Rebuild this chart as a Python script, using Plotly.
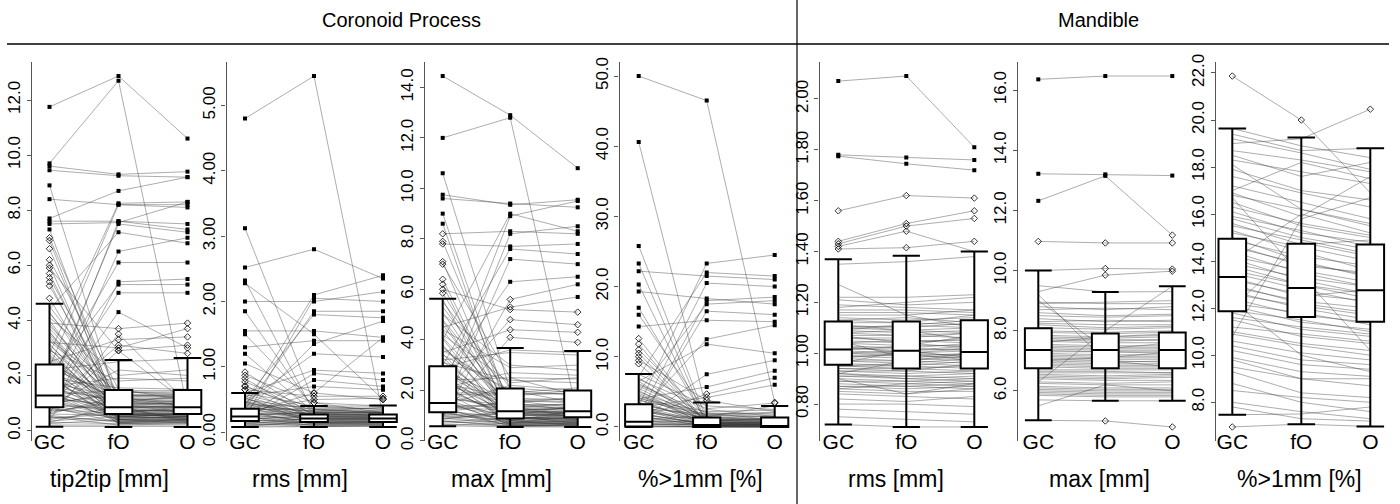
import plotly.graph_objects as go

W, H = 1400, 504
CATS = ["GC", "fO", "O"]

# ---------------- data: subjects as (GC, fO, O) ----------------
# Coronoid Process - tip2tip [mm]
p1_subjects = [
    (11.75, 12.87, 10.6), (9.7, 12.7, 0.8), (9.6, 9.3, 9.4), (9.45, 9.25, 9.2), (8.9, 0.9, 0.7),
    (8.4, 8.2, 8.2), (7.7, 8.7, 9.2), (7.6, 7.6, 7.3), (7.5, 7.55, 8.3), (7.3, 0.6, 0.5),
    (7.0, 1.2, 0.9), (6.9, 0.5, 0.6), (6.6, 0.8, 0.4), (6.2, 1.5, 1.1), (6.0, 0.4, 0.5),
    (5.9, 2.9, 1.0), (5.7, 0.7, 0.6), (5.55, 1.0, 1.3), (5.4, 0.3, 0.4), (5.25, 0.9, 0.3),
    (4.8, 0.6, 0.9),
    (2.3, 8.2, 8.1), (1.5, 7.5, 7.2), (0.9, 6.5, 7.0), (1.8, 6.1, 6.1), (0.6, 5.4, 5.5),
    (2.0, 5.3, 5.3), (1.2, 5.0, 5.0), (0.8, 4.3, 3.0), (3.9, 3.7, 3.9), (0.4, 3.5, 1.0),
    (2.5, 3.3, 3.4), (1.0, 3.1, 2.8), (3.2, 3.0, 3.7), (0.7, 2.9, 3.1), (4.4, 7.2, 6.8),
    (2.8, 8.25, 8.3), (1.3, 7.6, 7.5),
    (4.5, 1.3, 1.2), (4.3, 0.9, 1.0), (4.1, 2.0, 2.2), (3.9, 0.7, 0.8), (3.7, 1.1, 0.9),
    (3.5, 0.5, 0.6), (3.3, 1.4, 1.3), (3.1, 0.8, 0.7), (2.9, 1.8, 1.9), (2.7, 0.6, 0.5),
    (2.5, 1.0, 1.1), (2.3, 0.4, 0.4), (2.1, 1.2, 1.0), (1.9, 0.9, 0.8), (1.7, 0.5, 0.6),
    (1.5, 1.1, 1.2), (1.4, 0.7, 0.7), (1.3, 1.45, 1.45), (1.2, 0.85, 0.8), (1.1, 0.6, 0.65),
    (1.0, 1.3, 1.3), (0.9, 0.8, 0.9), (0.8, 0.45, 0.5), (0.7, 1.0, 0.95), (0.6, 0.55, 0.6),
    (0.5, 0.35, 0.4), (0.4, 0.75, 0.7), (0.3, 0.25, 0.3), (0.2, 0.2, 0.2), (0.15, 0.15, 0.15),
    (2.2, 2.5, 2.6), (1.6, 1.9, 1.8), (0.9, 2.2, 2.0), (3.0, 0.3, 0.35), (2.0, 0.25, 0.3),
    (0.35, 0.5, 0.45), (0.55, 0.3, 0.35), (0.75, 0.65, 0.6), (0.95, 0.4, 0.45), (1.15, 0.95, 1.0),
    (1.35, 0.55, 0.5), (1.55, 0.8, 0.85), (1.75, 1.2, 1.15), (1.95, 0.35, 0.4), (2.15, 0.7, 0.75),
    (2.45, 1.05, 1.0), (2.65, 0.45, 0.5), (2.95, 0.9, 0.85), (3.4, 0.6, 0.65), (3.8, 1.25, 1.3),
    (0.25, 0.4, 0.35), (0.65, 1.1, 1.05), (1.05, 0.5, 0.55),
    (0.45, 0.6, 0.55), (0.85, 0.3, 0.3), (1.25, 0.4, 0.45), (1.65, 1.0, 0.95), (2.05, 0.6, 0.55),
    (2.4, 0.85, 0.9), (2.85, 0.5, 0.45), (3.25, 1.15, 1.1), (3.6, 0.35, 0.4), (4.0, 0.55, 0.6),
    (4.25, 1.4, 1.35), (0.3, 0.9, 0.85), (0.6, 1.25, 1.2), (1.0, 0.7, 0.75), (1.4, 0.3, 0.35),
    (1.85, 0.65, 0.7), (2.25, 1.3, 1.25), (2.75, 0.75, 0.7), (3.15, 0.45, 0.5), (3.55, 0.95, 0.9),
    (0.5, 0.2, 0.25), (0.95, 1.4, 1.4), (1.45, 0.6, 0.6), (1.9, 1.55, 1.5), (2.6, 0.25, 0.25),
]
p1_lo = [0.14, 0.13, 0.13]
p1_q1 = [0.85, 0.60, 0.60]
p1_med = [1.27, 0.85, 0.85]
p1_q3 = [2.40, 1.47, 1.47]
p1_hi = [4.60, 2.56, 2.63]

# Coronoid Process - rms [mm]
p2_subjects = [
    (4.80, 5.45, 0.25), (3.12, 0.45, 0.30), (2.52, 2.80, 2.35), (2.32, 0.30, 0.25), (2.28, 1.50, 0.50),
    (2.00, 2.00, 2.15), (1.85, 0.35, 0.30), (1.55, 1.55, 1.45), (1.50, 0.40, 0.35), (1.30, 1.40, 1.40),
    (1.20, 0.30, 0.28), (1.05, 0.60, 0.50), (0.92, 0.25, 0.22), (0.87, 0.45, 0.40), (0.82, 0.20, 0.20),
    (0.77, 0.35, 0.30), (0.71, 0.28, 0.25),
    (0.40, 2.10, 2.40), (0.35, 1.85, 1.85), (0.50, 1.80, 1.75), (0.30, 1.35, 1.70), (0.45, 1.20, 1.15),
    (0.60, 0.95, 0.90), (0.25, 0.90, 0.80), (0.20, 0.80, 0.70), (0.55, 0.70, 0.65), (0.28, 0.60, 1.45),
    (0.65, 0.55, 0.55), (0.32, 0.50, 0.52), (0.22, 2.05, 2.00),
    (0.60, 0.40, 0.40), (0.55, 0.25, 0.28), (0.50, 0.35, 0.33), (0.47, 0.18, 0.20), (0.45, 0.30, 0.30),
    (0.42, 0.38, 0.35), (0.40, 0.22, 0.24), (0.38, 0.27, 0.27), (0.36, 0.33, 0.32), (0.33, 0.24, 0.25),
    (0.31, 0.15, 0.17), (0.30, 0.22, 0.22), (0.28, 0.29, 0.30), (0.26, 0.20, 0.20), (0.24, 0.13, 0.14),
    (0.22, 0.18, 0.18), (0.20, 0.26, 0.25), (0.18, 0.16, 0.16), (0.16, 0.11, 0.12), (0.15, 0.14, 0.14),
    (0.13, 0.21, 0.20), (0.12, 0.12, 0.12), (0.10, 0.09, 0.10), (0.09, 0.17, 0.16), (0.08, 0.08, 0.09),
    (0.70, 0.32, 0.38), (0.65, 0.20, 0.22),
    (0.58, 0.30, 0.31), (0.52, 0.21, 0.22), (0.48, 0.27, 0.26), (0.44, 0.15, 0.16), (0.41, 0.32, 0.30),
    (0.37, 0.19, 0.19), (0.34, 0.28, 0.28), (0.32, 0.12, 0.13), (0.29, 0.25, 0.24), (0.27, 0.17, 0.18),
    (0.25, 0.31, 0.30), (0.23, 0.10, 0.11), (0.21, 0.23, 0.23), (0.19, 0.14, 0.15), (0.17, 0.20, 0.21),
    (0.14, 0.09, 0.10), (0.11, 0.15, 0.15), (0.35, 0.36, 0.37), (0.53, 0.13, 0.14), (0.46, 0.24, 0.23),
]
p2_lo = [0.08, 0.08, 0.08]
p2_q1 = [0.17, 0.155, 0.155]
p2_med = [0.24, 0.21, 0.21]
p2_q3 = [0.36, 0.27, 0.27]
p2_hi = [0.60, 0.40, 0.41]

# Coronoid Process - max [mm]
p3_subjects = [
    (14.45, 12.9, 10.8), (12.0, 12.8, 1.0), (10.6, 2.0, 1.5), (9.75, 9.35, 9.55), (9.6, 9.4, 9.25),
    (9.0, 1.2, 1.1), (8.6, 0.9, 0.8), (8.2, 8.3, 8.2), (7.9, 1.4, 0.9), (7.8, 7.7, 7.8),
    (7.1, 0.8, 1.2), (7.0, 2.5, 1.8), (6.4, 1.0, 0.7), (6.2, 0.7, 1.0), (6.0, 5.2, 5.1),
    (5.85, 1.6, 1.3), (5.6, 0.8, 0.6),
    (2.0, 8.9, 9.5), (1.5, 8.2, 8.5), (3.0, 7.6, 7.4), (1.2, 7.2, 7.0), (2.5, 6.3, 6.5),
    (0.9, 5.6, 6.2), (4.5, 5.3, 5.7), (1.8, 4.8, 4.6), (3.5, 4.4, 4.3), (1.0, 4.1, 3.9),
    (4.0, 9.0, 8.3),
    (5.0, 3.0, 2.8), (4.2, 2.3, 2.5), (3.6, 1.9, 2.1), (3.2, 3.5, 3.4), (2.8, 1.6, 1.7),
    (2.4, 1.3, 1.5), (2.1, 2.7, 2.6), (1.9, 1.1, 1.2), (1.7, 1.4, 1.3), (1.5, 1.0, 1.0),
    (1.35, 1.2, 1.1), (1.2, 0.9, 0.95), (1.1, 0.75, 0.8), (0.95, 0.7, 0.75), (0.8, 0.6, 0.65),
    (0.6, 0.55, 0.55), (4.8, 1.5, 1.2), (2.2, 0.8, 0.9), (3.0, 1.0, 1.4), (1.4, 2.2, 2.0),
    (5.3, 1.8, 2.0), (4.6, 1.1, 0.95), (3.8, 0.85, 1.05), (3.4, 2.0, 1.8), (2.6, 0.95, 1.1),
    (2.3, 1.7, 1.6), (1.6, 0.65, 0.7), (1.3, 1.5, 1.7), (1.0, 0.95, 0.85), (0.85, 1.2, 1.3),
    (0.7, 0.8, 0.75), (2.9, 3.6, 3.5),
    (0.65, 0.6, 0.6), (0.75, 0.9, 0.85), (0.9, 0.65, 0.7), (1.05, 1.05, 1.0), (1.25, 0.7, 0.8),
    (1.45, 1.3, 1.25), (1.65, 0.9, 0.9), (1.85, 1.8, 1.9), (2.05, 1.0, 1.1), (2.25, 1.45, 1.4),
    (2.5, 0.75, 0.85), (2.7, 1.2, 1.3), (3.1, 2.4, 2.3), (3.3, 0.9, 1.0), (3.7, 1.6, 1.5),
    (4.1, 1.2, 1.3), (4.4, 2.9, 3.0), (5.5, 2.1, 1.9),
    (0.62, 0.7, 0.7), (0.78, 0.58, 0.6), (0.98, 0.85, 0.9), (1.15, 0.62, 0.65), (1.38, 1.0, 1.05),
    (1.55, 0.72, 0.75), (1.75, 1.25, 1.2), (1.95, 0.6, 0.62), (2.15, 0.9, 0.95), (2.35, 1.1, 1.05),
    (2.55, 0.65, 0.7), (2.75, 1.4, 1.45), (2.95, 0.8, 0.78), (3.15, 1.2, 1.15), (3.45, 0.7, 0.72),
    (3.75, 1.05, 1.1), (4.05, 0.6, 0.65), (4.35, 1.35, 1.3), (4.75, 0.9, 0.85), (5.1, 1.15, 1.1),
    (1.1, 1.6, 1.55), (0.88, 1.1, 1.15), (1.9, 1.9, 1.85), (2.4, 2.5, 2.45), (1.3, 0.58, 0.6),
]
p3_lo = [0.58, 0.55, 0.55]
p3_q1 = [1.13, 0.89, 0.93]
p3_med = [1.50, 1.17, 1.17]
p3_q3 = [2.95, 2.07, 1.99]
p3_hi = [5.63, 3.68, 3.56]

# Coronoid Process - %>1mm [%]
p4_subjects = [
    (50.0, 46.5, 3.5), (40.6, 2.5, 1.5), (25.8, 1.0, 0.8), (23.3, 0.5, 0.4), (22.2, 21.5, 21.0),
    (20.3, 0.3, 0.2), (19.3, 18.3, 17.5), (17.0, 0.8, 0.5), (16.0, 2.0, 1.0), (14.3, 15.2, 15.0),
    (12.6, 0.4, 0.3), (11.8, 0.2, 0.5), (11.0, 1.4, 0.9), (10.5, 0.6, 0.2), (10.0, 0.1, 0.1),
    (9.5, 3.8, 2.2), (9.0, 0.9, 0.6),
    (3.0, 23.3, 24.5), (1.5, 20.5, 20.0), (5.0, 17.5, 18.0), (0.5, 16.5, 16.0), (2.0, 12.5, 14.5),
    (6.5, 11.8, 10.5), (0.8, 7.5, 9.5), (4.0, 5.7, 8.0), (1.2, 4.7, 7.0), (2.8, 4.2, 6.0),
    (7.2, 22.0, 21.5), (0.3, 18.0, 18.5),
    (7.5, 3.0, 2.5), (6.0, 2.0, 1.8), (5.0, 1.5, 3.0), (4.2, 1.0, 1.2), (3.5, 0.7, 0.5),
    (2.6, 0.5, 0.8), (2.0, 0.3, 0.3), (1.4, 0.2, 0.1), (0.9, 0.1, 0.1), (0.5, 0.0, 0.0),
    (0.2, 0.0, 0.0), (0.0, 0.0, 0.0), (3.2, 1.3, 1.0), (1.0, 0.6, 0.4), (0.7, 0.8, 1.3),
    (6.8, 2.6, 3.4), (5.5, 0.9, 0.7), (4.6, 0.4, 0.6), (3.8, 1.8, 1.5), (2.3, 1.1, 0.9),
    (1.8, 0.5, 0.3), (1.1, 1.5, 2.0), (0.4, 0.3, 0.2), (0.1, 0.1, 0.0), (6.2, 1.2, 1.6),
    (2.9, 0.2, 0.1),
    (7.0, 1.0, 0.8), (6.5, 0.5, 0.4), (5.8, 1.6, 1.4), (5.2, 0.2, 0.3), (4.8, 0.8, 0.6),
    (4.4, 1.4, 1.1), (3.9, 0.3, 0.2), (3.4, 1.1, 0.9), (3.0, 0.6, 0.7), (2.5, 0.1, 0.2),
    (2.2, 0.9, 1.1), (1.9, 0.4, 0.3), (1.6, 0.1, 0.0), (1.3, 0.7, 0.5), (0.95, 0.3, 0.4),
    (0.6, 0.2, 0.1), (0.35, 0.5, 0.6), (0.15, 0.0, 0.1), (4.0, 2.2, 2.4), (2.7, 1.8, 2.1),
]
p4_lo = [0.0, 0.0, 0.0]
p4_q1 = [0.05, 0.0, 0.0]
p4_med = [0.75, 0.28, 0.15]
p4_q3 = [3.24, 1.36, 1.36]
p4_hi = [7.56, 3.47, 3.00]

# Mandible - rms [mm]
p5_subjects = [
    (2.07, 2.09, 1.81), (1.78, 1.77, 1.76), (1.775, 1.745, 1.72), (1.56, 1.62, 1.61), (1.44, 1.51, 1.56),
    (1.43, 1.50, 1.53), (1.42, 1.48, 1.40), (1.41, 1.415, 1.44),
    (1.35, 1.36, 1.38), (1.27, 1.15, 1.10), (1.22, 1.22, 1.23), (1.18, 1.20, 1.22), (1.17, 1.17, 1.16),
    (1.15, 1.15, 1.17), (1.13, 1.14, 1.12), (1.10, 1.11, 1.13), (1.08, 1.09, 1.10), (1.06, 1.06, 1.08),
    (1.04, 1.05, 1.04), (1.02, 1.01, 1.02), (1.00, 1.00, 0.99), (0.99, 0.98, 0.97), (0.97, 0.96, 0.95),
    (0.95, 0.95, 0.94), (0.93, 0.92, 0.93), (0.91, 0.90, 0.91), (0.89, 0.88, 0.89), (0.87, 0.86, 0.87),
    (0.85, 0.84, 0.86), (0.84, 0.83, 0.82), (0.80, 0.80, 0.79), (0.78, 0.77, 0.76), (0.75, 0.74, 0.73),
    (0.72, 0.71, 0.71), (0.90, 0.84, 0.88), (1.05, 0.98, 1.00), (0.96, 1.01, 1.03), (1.11, 1.09, 1.05),
    (0.92, 0.97, 1.00), (1.01, 1.03, 1.07), (0.94, 0.93, 0.96), (1.07, 1.04, 1.02),
    (1.19, 1.18, 1.17), (1.16, 1.16, 1.15), (1.14, 1.13, 1.14), (1.12, 1.12, 1.11), (1.11, 1.10, 1.12),
    (1.10, 1.09, 1.08), (1.09, 1.08, 1.09), (1.08, 1.07, 1.06), (1.07, 1.07, 1.08), (1.06, 1.05, 1.05),
    (1.05, 1.04, 1.06), (1.04, 1.03, 1.03), (1.03, 1.02, 1.04), (1.02, 1.02, 1.01), (1.01, 1.00, 1.01),
    (1.00, 0.99, 1.00), (0.99, 0.99, 0.98), (0.98, 0.97, 0.99), (0.97, 0.97, 0.96), (0.96, 0.95, 0.97),
    (0.95, 0.94, 0.95), (0.94, 0.94, 0.93), (0.93, 0.93, 0.92), (0.92, 0.91, 0.92), (0.91, 0.91, 0.90),
    (0.90, 0.89, 0.90), (0.89, 0.89, 0.88), (0.88, 0.87, 0.88), (0.87, 0.87, 0.86), (0.86, 0.85, 0.85),
    (1.00, 1.01, 0.98), (0.98, 1.00, 1.02), (1.03, 1.00, 0.97), (0.95, 0.96, 0.98), (1.09, 1.11, 1.10),
    (0.92, 0.90, 0.89), (1.13, 1.12, 1.15), (1.21, 1.19, 1.20), (0.82, 0.81, 0.83), (0.86, 0.88, 0.87),
]
p5_lo = [0.72, 0.71, 0.71]
p5_q1 = [0.955, 0.94, 0.94]
p5_med = [1.015, 1.01, 1.005]
p5_q3 = [1.125, 1.125, 1.13]
p5_hi = [1.37, 1.383, 1.40]

# Mandible - max [mm]
p6_subjects = [
    (16.36, 16.47, 16.47), (13.22, 13.2, 13.16), (12.32, 13.15, 11.18), (10.97, 10.92, 10.92),
    (10.0, 10.07, 10.05), (9.3, 9.85, 9.98), (5.02, 5.0, 4.8), (9.2, 7.0, 6.8), (9.0, 7.4, 7.6),
    (6.3, 8.0, 9.48), (8.9, 8.95, 9.0), (8.8, 8.7, 8.8), (8.6, 8.5, 8.55), (8.4, 8.3, 8.35),
    (8.2, 8.1, 8.15), (8.0, 7.95, 8.0), (7.85, 7.8, 7.85), (7.7, 7.65, 7.7), (7.55, 7.5, 7.5),
    (7.4, 7.35, 7.35), (7.25, 7.2, 7.2), (7.1, 7.05, 7.05), (6.95, 6.9, 6.9), (6.8, 6.75, 6.75),
    (6.6, 6.6, 6.6), (6.45, 6.4, 6.45), (6.3, 6.25, 6.3), (6.15, 6.1, 6.1), (6.0, 5.95, 5.95),
    (5.85, 5.8, 5.8), (5.7, 5.67, 5.67), (9.5, 9.29, 9.3), (5.5, 6.2, 6.0), (7.6, 7.8, 7.9),
    (7.0, 7.1, 7.3),
    (8.95, 8.9, 8.9), (8.7, 8.75, 8.7), (8.5, 8.45, 8.5), (8.3, 8.35, 8.3), (8.1, 8.05, 8.1),
    (7.95, 7.9, 7.95), (7.8, 7.75, 7.8), (7.65, 7.6, 7.6), (7.5, 7.45, 7.45), (7.45, 7.4, 7.4),
    (7.3, 7.3, 7.25), (7.2, 7.15, 7.15), (7.15, 7.1, 7.1), (7.0, 6.95, 7.0), (6.9, 6.85, 6.85),
    (6.85, 6.8, 6.8), (6.7, 6.7, 6.7), (6.55, 6.5, 6.55), (6.5, 6.45, 6.5), (6.4, 6.35, 6.35),
    (6.25, 6.2, 6.2), (6.1, 6.05, 6.05), (5.95, 5.9, 5.9), (5.9, 5.85, 5.85), (6.05, 6.0, 6.0),
    (7.75, 7.7, 7.7), (7.35, 7.3, 7.3), (6.65, 6.65, 6.6), (8.25, 8.2, 8.2), (7.05, 7.0, 6.95),
]
p6_lo = [5.02, 5.67, 5.67]
p6_q1 = [6.75, 6.75, 6.75]
p6_med = [7.36, 7.36, 7.36]
p6_q3 = [8.08, 7.91, 7.94]
p6_hi = [10.0, 9.29, 9.48]

# Mandible - %>1mm [%]
p7_subjects = [
    (21.87, 20.0, 16.9), (19.0, 19.2, 20.46), (6.95, 7.07, 6.97), (19.64, 18.9, 18.4), (19.4, 18.7, 18.8),
    (18.7, 18.3, 17.8), (18.5, 17.6, 18.2), (17.9, 17.0, 16.6), (17.2, 16.5, 15.8), (16.9, 15.9, 17.6),
    (16.5, 15.5, 15.0), (16.1, 15.2, 14.8), (15.8, 15.0, 14.5), (15.6, 14.7, 14.9), (15.3, 14.4, 13.6),
    (15.0, 14.0, 13.3), (14.7, 13.8, 13.5), (14.4, 13.5, 12.9), (14.1, 13.2, 12.6), (13.8, 13.0, 12.4),
    (13.5, 12.8, 12.2), (13.3, 12.5, 12.8), (13.0, 12.2, 11.8), (12.7, 12.0, 11.5), (12.4, 11.7, 11.4),
    (12.1, 11.4, 11.1), (11.8, 11.1, 10.8), (11.5, 10.8, 10.5), (11.0, 10.5, 10.2), (10.6, 10.1, 9.8),
    (10.2, 9.6, 9.4), (9.8, 9.0, 9.0), (9.3, 8.4, 8.2), (8.8, 8.0, 7.6), (7.47, 7.5, 7.8),
    (16.7, 13.4, 10.2), (10.8, 15.8, 16.7), (12.0, 14.8, 14.2), (18.1, 16.2, 15.5),
    (19.2, 18.6, 17.9), (18.3, 17.8, 17.3), (17.6, 16.9, 16.3), (16.8, 16.2, 15.6), (16.3, 15.6, 15.1),
    (15.9, 15.3, 14.6), (15.5, 14.9, 14.3), (15.2, 14.6, 14.0), (14.9, 14.2, 13.8), (14.6, 13.9, 13.4),
    (14.2, 13.6, 13.1), (13.9, 13.3, 12.9), (13.6, 13.0, 12.6), (13.2, 12.6, 12.3), (12.9, 12.3, 12.0),
    (12.6, 12.1, 11.7), (12.2, 11.8, 11.3), (11.9, 11.5, 11.0), (11.6, 11.2, 10.9), (11.2, 10.9, 10.6),
    (10.9, 10.4, 10.0), (10.4, 9.8, 9.6), (9.9, 9.3, 9.1), (9.5, 9.0, 8.7), (8.5, 8.2, 8.0),
    (8.0, 7.6, 7.3), (7.8, 7.3, 7.2), (17.0, 18.2, 17.5), (14.0, 16.0, 15.2), (12.3, 10.0, 9.3),
]
p7_lo = [7.47, 7.07, 6.97]
p7_q1 = [11.87, 11.63, 11.42]
p7_med = [13.33, 12.86, 12.76]
p7_q3 = [14.95, 14.74, 14.71]
p7_hi = [19.64, 19.26, 18.80]

panel_titles = ["tip2tip [mm]", "rms [mm]", "max [mm]", "%>1mm [%]", "rms [mm]", "max [mm]", "%>1mm [%]"]
group_titles = ["Coronoid Process", "Mandible"]
y_ticks = [
    [0, 2, 4, 6, 8, 10, 12],
    [0, 1, 2, 3, 4, 5],
    [0, 2, 4, 6, 8, 10, 12, 14],
    [0, 10, 20, 30, 40, 50],
    [0.8, 1.0, 1.2, 1.4, 1.6, 1.8, 2.0],
    [6, 8, 10, 12, 14, 16],
    [8, 10, 12, 14, 16, 18, 20, 22],
]
y_fmt = [".1f", ".2f", ".1f", ".1f", ".2f", ".1f", ".1f"]

panels = [
    (p1_subjects, p1_lo, p1_q1, p1_med, p1_q3, p1_hi),
    (p2_subjects, p2_lo, p2_q1, p2_med, p2_q3, p2_hi),
    (p3_subjects, p3_lo, p3_q1, p3_med, p3_q3, p3_hi),
    (p4_subjects, p4_lo, p4_q1, p4_med, p4_q3, p4_hi),
    (p5_subjects, p5_lo, p5_q1, p5_med, p5_q3, p5_hi),
    (p6_subjects, p6_lo, p6_q1, p6_med, p6_q3, p6_hi),
    (p7_subjects, p7_lo, p7_q1, p7_med, p7_q3, p7_hi),
]

# ---------------- geometry (target pixels on the page) ----------------
axis_px = [32, 226.5, 425, 619.5, 819.5, 1018, 1216]
gc_px = [49.5, 245, 442.7, 638.7, 838.3, 1038.3, 1232.3]
step_px = [69, 69, 67.5, 68, 68, 67, 69]
label_px = [109, 300, 501, 701, 896, 1099, 1299]
PANEL_W = 178
Y_TOP, Y_BOT = 62, 441
XLAB_Y = 427
FONT = "Liberation Sans, Arial, Helvetica, sans-serif"
LINE_COL = "rgba(60,60,60,0.42)"
AX_COL = "#555555"


def fx(px):
    return px / W


def fy(py):
    return 1 - py / H


def ax_id(letter, n):
    return letter if n == 1 else f"{letter}{n}"


def lay_key(letter, n):
    return f"{letter}axis" if n == 1 else f"{letter}axis{n}"


fig = go.Figure()
layout = {}
NP = len(panels)

for i, (subj, lo, q1, med, q3, hi) in enumerate(panels):
    n = i + 1
    m = i + 1 + NP
    xa, ya = ax_id("x", n), ax_id("y", n)
    xo, yo = ax_id("x", m), ax_id("y", m)

    allv = [v for s in subj for v in s] + lo + hi
    vmin, vmax = min(allv), max(allv)
    pad = 0.04 * (vmax - vmin)
    yr = [vmin - pad, vmax + pad]
    xr = [(axis_px[i] - gc_px[i]) / step_px[i], (axis_px[i] + PANEL_W - gc_px[i]) / step_px[i]]
    xdom = [fx(axis_px[i]), fx(axis_px[i] + PANEL_W)]
    ydom = [fy(Y_BOT), fy(Y_TOP)]

    # paired lines
    for s in subj:
        fig.add_trace(go.Scatter(
            x=[0, 1, 2], y=list(s), mode="lines",
            line=dict(color=LINE_COL, width=1),
            xaxis=xa, yaxis=ya, hoverinfo="skip", showlegend=False))

    # boxes (on overlay axes, drawn above lines)
    fig.add_trace(go.Box(
        x=[0, 1, 2], q1=q1, median=med, q3=q3, lowerfence=lo, upperfence=hi,
        boxpoints=False, fillcolor="white", line=dict(color="black", width=2),
        width=0.40, whiskerwidth=1, xaxis=xo, yaxis=yo, hoverinfo="skip", showlegend=False))

    # outliers
    ox_d, oy_d, ox_s, oy_s = [], [], [], []
    for j in range(3):
        iqr = q3[j] - q1[j]
        for s in subj:
            v = s[j]
            if v > hi[j] + 1e-9 or v < lo[j] - 1e-9:
                if v > q3[j] + 3 * iqr or v < q1[j] - 3 * iqr:
                    ox_s.append(j); oy_s.append(v)
                else:
                    ox_d.append(j); oy_d.append(v)
    fig.add_trace(go.Scatter(
        x=ox_d, y=oy_d, mode="markers",
        marker=dict(symbol="diamond-open", size=5, color="black", line=dict(width=0.8)),
        xaxis=xo, yaxis=yo, hoverinfo="skip", showlegend=False))
    fig.add_trace(go.Scatter(
        x=ox_s, y=oy_s, mode="markers",
        marker=dict(symbol="square", size=4, color="black"),
        xaxis=xo, yaxis=yo, hoverinfo="skip", showlegend=False))

    layout[lay_key("x", n)] = dict(
        domain=xdom, range=xr, anchor="free", position=fy(XLAB_Y),
        tickmode="array", tickvals=[0, 1, 2], ticktext=CATS, ticks="",
        showline=False, showgrid=False, zeroline=False, automargin=False,
        tickfont=dict(family=FONT, size=21, color="black"))
    layout[lay_key("y", n)] = dict(
        domain=ydom, range=yr, anchor=xa,
        tickmode="array", tickvals=y_ticks[i],
        ticktext=[format(t, y_fmt[i]) for t in y_ticks[i]],
        tickangle=-90, ticks="outside", ticklen=4, tickcolor=AX_COL, tickwidth=1,
        showline=True, linecolor=AX_COL, linewidth=1.3,
        showgrid=False, zeroline=False, automargin=False,
        tickfont=dict(family=FONT, size=17, color="black"))
    layout[lay_key("x", m)] = dict(
        overlaying=xa, range=xr, anchor=yo, visible=False,
        showgrid=False, zeroline=False)
    layout[lay_key("y", m)] = dict(
        overlaying=ya, range=yr, anchor=xo, visible=False,
        showgrid=False, zeroline=False)

annotations = []
for i, t in enumerate(panel_titles):
    annotations.append(dict(
        text=t, x=fx(label_px[i]), y=fy(479), xref="paper", yref="paper",
        xanchor="center", yanchor="middle", showarrow=False,
        font=dict(family=FONT, size=23, color="black")))
for t, cx in zip(group_titles, [401, 1098]):
    annotations.append(dict(
        text=t, x=fx(cx), y=fy(20), xref="paper", yref="paper",
        xanchor="center", yanchor="middle", showarrow=False,
        font=dict(family=FONT, size=20, color="black")))

shapes = [
    dict(type="line", xref="paper", yref="paper", x0=fx(7), x1=fx(1389),
         y0=fy(44), y1=fy(44), line=dict(color="black", width=1.5)),
    dict(type="line", xref="paper", yref="paper", x0=fx(797), x1=fx(797),
         y0=0, y1=1, line=dict(color="black", width=1.2)),
]

fig.update_layout(
    width=W, height=H, margin=dict(l=0, r=0, t=0, b=0),
    paper_bgcolor="white", plot_bgcolor="white",
    showlegend=False, annotations=annotations, shapes=shapes,
    font=dict(family=FONT, color="black"),
    **layout)

# remove the default page margin so the figure sits at the window's top-left corner
fig.write_html("out.html", config={"displayModeBar": False},
               post_script="document.body.style.margin='0px';")
